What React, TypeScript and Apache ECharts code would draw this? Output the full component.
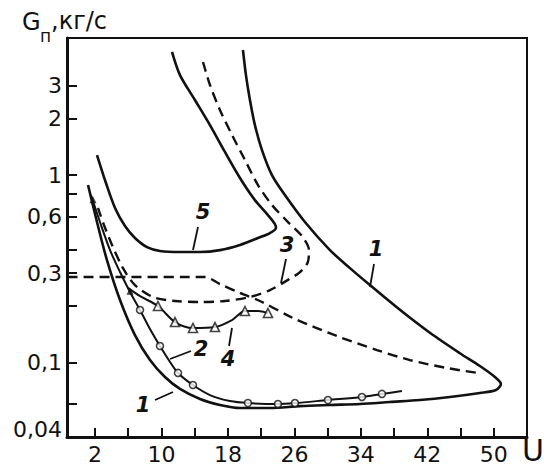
import React, { useEffect, useRef } from "react";
import * as echarts from "echarts";

// Tick / label values
const xTickValues = [2, 6, 10, 14, 18, 22, 26, 30, 34, 38, 42, 46, 50];
const xLabelValues = [2, 10, 18, 26, 34, 42, 50];
const yTickValues = [0.06, 0.1, 0.2, 0.3, 0.4, 0.6, 0.8, 1, 2, 3];
const yLabelValues = [0.04, 0.1, 0.3, 0.6, 1, 2, 3];

// Curve 1 (solid loop)
const curve1: [number, number][] = [
  [19.81, 4.66], [20.17, 3.42], [20.65, 2.52], [21.25, 1.85], [22.1, 1.36],
  [23.3, 1.0], [24.86, 0.783], [27.27, 0.562], [30.28, 0.398], [32.69, 0.319], [35.09, 0.259],
  [38.7, 0.191], [42.31, 0.144], [45.92, 0.112], [48.33, 0.0957], [50.14, 0.0836],
  [50.86, 0.0767], [50.26, 0.0713], [48.33, 0.0687], [44.72, 0.0654], [41.11, 0.063],
  [37.5, 0.0615], [33.89, 0.06], [30.28, 0.0593], [26.67, 0.0585], [23.06, 0.0571],
  [19.45, 0.0571], [17.04, 0.0593], [14.64, 0.0638], [12.23, 0.0722], [10.42, 0.0836],
  [8.62, 0.103], [6.81, 0.14], [5.01, 0.2156], [3.44, 0.352], [2.24, 0.562], [1.16, 0.886],
];

// Curve 2 (solid with circles)
const curve2: [number, number][] = [
  [1.52, 0.783], [2.6, 0.562], [3.81, 0.398], [5.01, 0.304], [6.21, 0.238],
  [7.42, 0.1906], [8.62, 0.1509], [9.82, 0.1224], [11.03, 0.1006], [11.99, 0.0879],
  [13.79, 0.0758], [15.84, 0.067], [18.25, 0.0622], [20.41, 0.0607], [24.02, 0.06],
  [26.07, 0.0607], [30.04, 0.063], [34.13, 0.0654], [36.54, 0.0679], [38.94, 0.0704],
];
const curve2Points: [number, number][] = [
  [7.42, 0.1906], [9.82, 0.1224], [11.99, 0.0879], [13.79, 0.0758], [20.41, 0.0607],
  [24.02, 0.06], [26.07, 0.0607], [30.04, 0.063], [34.13, 0.0654], [36.54, 0.0679],
];

// Curve 3 (dashed loop)
const curve3: [number, number][] = [
  [15.0, 4.02], [15.84, 3.03], [17.04, 2.23], [18.49, 1.64], [20.05, 1.205],
  [21.62, 0.886], [23.3, 0.693], [25.23, 0.562], [26.91, 0.473],
  [27.75, 0.398], [27.63, 0.344], [26.67, 0.304], [25.23, 0.276], [23.06, 0.2435],
  [20.65, 0.2236], [17.64, 0.2129], [14.64, 0.2103], [11.63, 0.2129], [8.98, 0.2236],
  [6.81, 0.259], [5.37, 0.319], [4.05, 0.424], [3.08, 0.542], [2.36, 0.668],
];

// Curve 4 (solid with triangles)
const curve4: [number, number][] = [
  [5.97, 0.25], [7.42, 0.226], [9.58, 0.2002], [11.63, 0.1644], [13.79, 0.1528],
  [16.44, 0.1546], [18.49, 0.1685], [20.05, 0.1883], [21.62, 0.1883], [22.82, 0.1837],
];
const curve4Points: [number, number][] = [
  [9.58, 0.2002], [11.63, 0.1644], [13.79, 0.1528], [16.44, 0.1546], [20.05, 0.1883], [22.82, 0.1837],
];

// Curve 5 (solid loop)
const curve5: [number, number][] = [
  [11.27, 4.55], [12.23, 3.42], [14.03, 2.52], [15.84, 1.85], [17.64, 1.33],
  [19.45, 0.966], [21.25, 0.736], [22.82, 0.612], [23.66, 0.548], [23.78, 0.522],
  [23.06, 0.491], [21.62, 0.462], [19.45, 0.424], [17.04, 0.398], [14.64, 0.389],
  [12.23, 0.389], [9.82, 0.394], [8.26, 0.413], [6.81, 0.462], [5.61, 0.535],
  [4.41, 0.668], [3.32, 0.908], [2.24, 1.28],
];

// Long dashed boundary line
const boundary: [number, number][] = [
  [-1.3, 0.286], [15.24, 0.286], [17.04, 0.262], [19.45, 0.235], [22.1, 0.2103],
  [25.83, 0.1727], [31.12, 0.1384], [35.94, 0.1165], [39.91, 0.103], [44.36, 0.0934], [48.09, 0.0879],
];

// Filled start markers
const startPoints: [number, number][] = [[1.76, 0.74], [6.21, 0.24]];

const FONT = "DejaVu Sans";
const INK = "#111";

export default function App() {
  const ref = useRef<HTMLDivElement>(null);
  useEffect(() => {
    const chart = echarts.init(ref.current!, undefined, { renderer: "svg" });
    const line = (data: [number, number][], width: number, dashed = false) => ({
      type: "line",
      data,
      showSymbol: false,
      smooth: 0.3,
      silent: true,
      lineStyle: { color: INK, width, type: dashed ? [10, 6] : "solid" },
    });
    const labelTxt = (text: string, x: number, y: number) => ({
      type: "text",
      x,
      y,
      style: {
        text,
        fill: INK,
        font: `italic bold 21px "${FONT}"`,
        align: "center",
        verticalAlign: "middle",
      },
    });
    const leader = (x1: number, y1: number, x2: number, y2: number) => ({
      type: "line",
      shape: { x1, y1, x2, y2 },
      style: { stroke: INK, lineWidth: 1.8 },
    });
    chart.setOption({
      animation: false,
      backgroundColor: "#fff",
      grid: {
        left: 67,
        right: 17,
        top: 38,
        bottom: 34,
        show: true,
        borderColor: INK,
        borderWidth: 2,
      },
      xAxis: {
        type: "value",
        min: -1.37,
        max: 54,
        axisLine: { onZero: false, lineStyle: { color: INK, width: 3 } },
        axisTick: {
          inside: true,
          length: 9,
          customValues: xTickValues,
          lineStyle: { color: INK, width: 2 },
        },
        axisLabel: {
          customValues: xLabelValues,
          color: INK,
          fontSize: 22,
          fontFamily: FONT,
          margin: 6,
        },
        splitLine: { show: false },
      },
      yAxis: {
        type: "log",
        logBase: 10,
        min: 0.04,
        max: 5.4,
        axisLine: { onZero: false, lineStyle: { color: INK, width: 3 } },
        axisTick: {
          inside: true,
          length: 10,
          customValues: yTickValues,
          lineStyle: { color: INK, width: 2 },
        },
        axisLabel: {
          customValues: yLabelValues,
          color: INK,
          fontSize: 22,
          fontFamily: FONT,
          margin: 5,
          formatter: (v: number) => {
            const s = String(+v.toPrecision(6)).replace(".", ",");
            return Math.abs(v - 0.04) < 1e-9 ? `{up|${s}}` : s;
          },
          rich: {
            up: { fontSize: 22, fontFamily: FONT, color: INK, padding: [0, 0, 16, 0] },
          },
        },
        splitLine: { show: false },
        minorTick: { show: false },
      },
      series: [
        line(curve1, 2.6),
        line(curve2, 2),
        line(curve3, 2.4, true),
        line(curve4, 2),
        line(curve5, 2.6),
        line(boundary, 2.4, true),
        {
          type: "scatter",
          data: curve2Points,
          symbol: "circle",
          symbolSize: 7,
          silent: true,
          z: 5,
          itemStyle: { color: "#fff", borderColor: INK, borderWidth: 1.6 },
        },
        {
          type: "scatter",
          data: curve4Points,
          symbol: "triangle",
          symbolSize: 9,
          silent: true,
          z: 5,
          itemStyle: { color: "#fff", borderColor: INK, borderWidth: 1.6 },
        },
        {
          type: "scatter",
          data: startPoints,
          symbol: "triangle",
          symbolSize: 7,
          silent: true,
          z: 5,
          itemStyle: { color: INK },
        },
      ],
      graphic: [
        { type: "text", x: 22, y: 22, style: { text: "G", fill: INK, font: `24px "${FONT}"`, align: "left", verticalAlign: "middle" } },
        { type: "text", x: 40, y: 36, style: { text: "п", fill: INK, font: `17px "${FONT}"`, align: "left", verticalAlign: "middle" } },
        { type: "text", x: 51, y: 21, style: { text: ",кг/с", fill: INK, font: `24px "${FONT}"`, align: "left", verticalAlign: "middle" } },
        { type: "text", x: 533, y: 450, style: { text: "U", fill: INK, font: `30px "${FONT}"`, align: "center", verticalAlign: "middle" } },
        labelTxt("1", 143, 405),
        leader(155, 400, 173, 392),
        labelTxt("1", 376, 249),
        leader(374, 264, 370, 287),
        labelTxt("2", 201, 349),
        leader(191, 351, 170, 359),
        labelTxt("3", 287, 245),
        leader(286, 259, 281, 283),
        labelTxt("4", 228, 359),
        leader(229, 346, 232, 328),
        labelTxt("5", 203, 212),
        leader(198, 227, 193, 250),
      ],
    });
    return () => chart.dispose();
  }, []);
  return (
    <div
      ref={ref}
      style={{ position: "fixed", left: 0, top: 0, width: 544, height: 471 }}
    />
  );
}
